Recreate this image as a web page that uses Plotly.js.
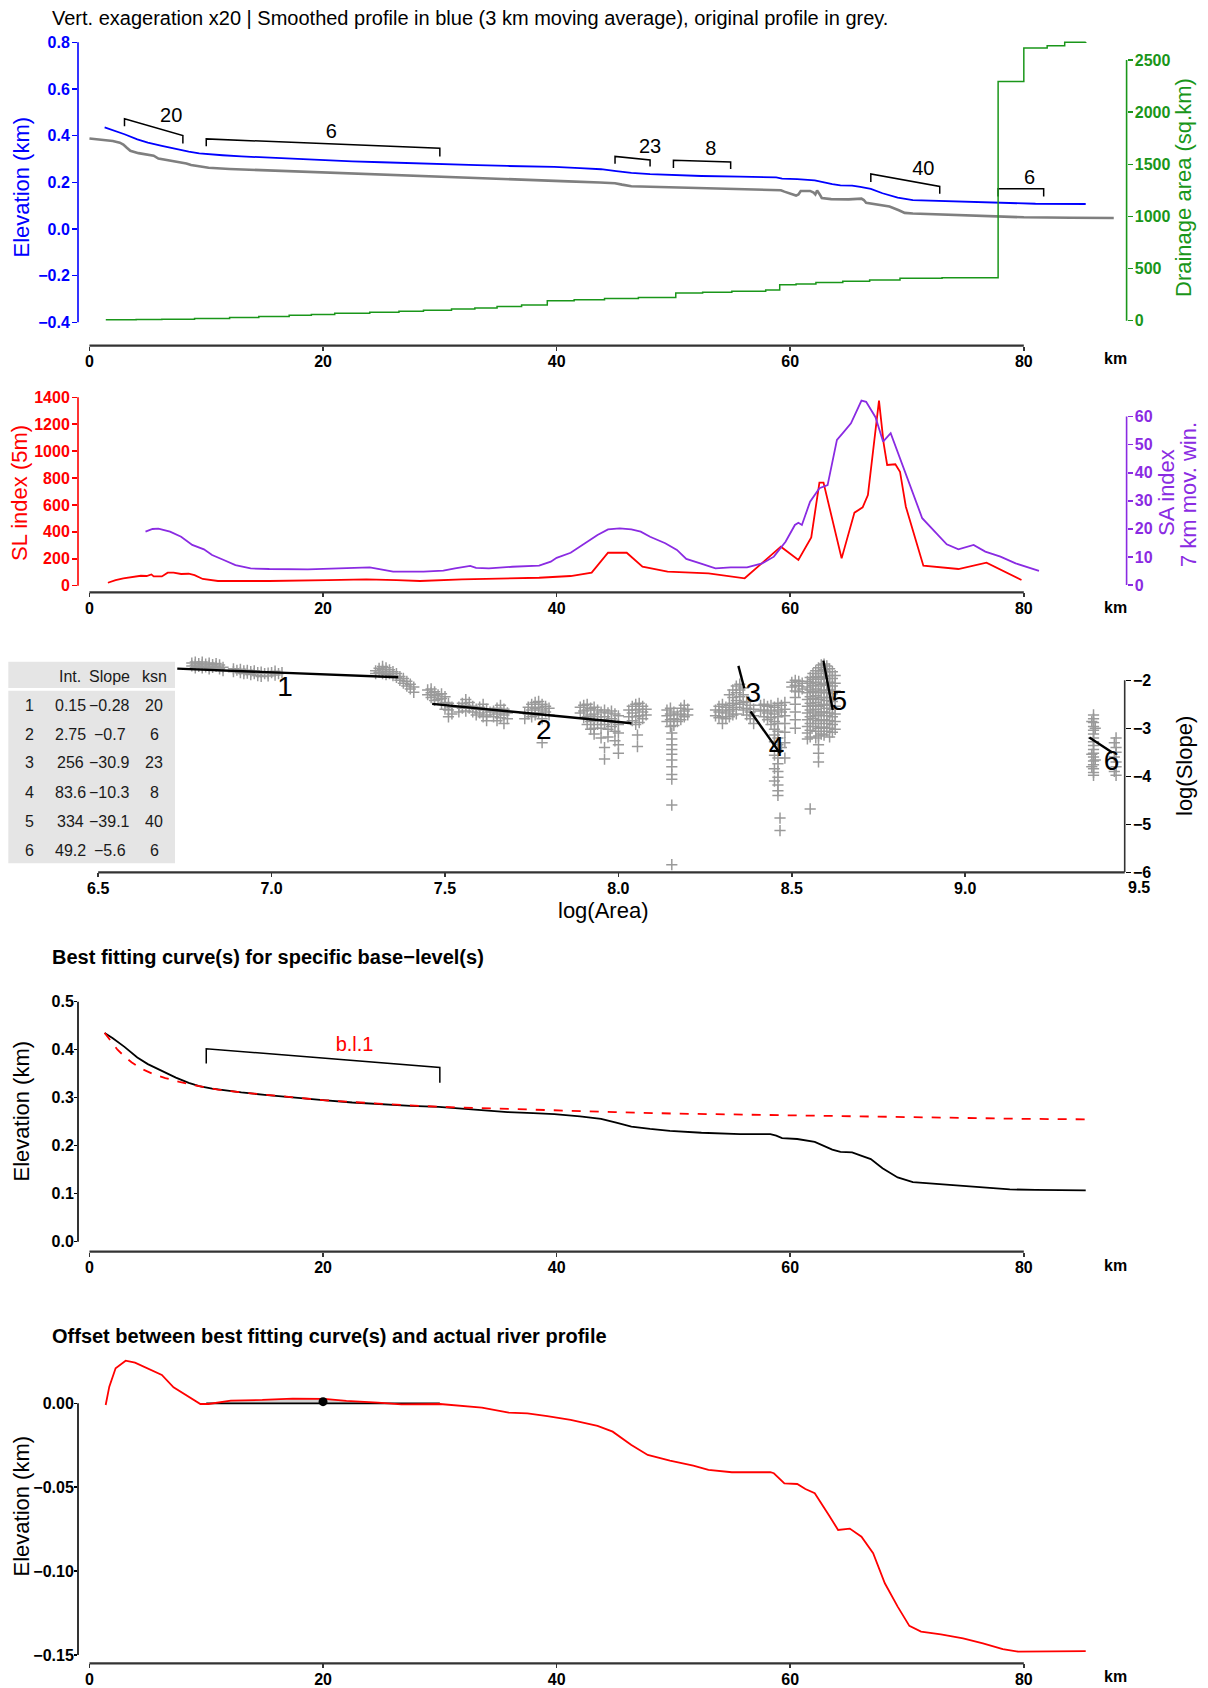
<!DOCTYPE html>
<html><head><meta charset="utf-8">
<script src="https://cdn.plot.ly/plotly-3.0.1.min.js"></script>
<style>html,body{margin:0;padding:0;background:#fff}#chart{width:1208px;height:1688px}</style>
</head><body><div id="chart"></div>
<script>
// ================= DATA =================
const kmTicks = [0, 20, 40, 60, 80];

// Panel 1 : original profile (grey)
const rawKm = [0.0,1.0,2.0,2.6,2.9,3.2,3.5,4.2,5.0,5.5,5.9,6.8,7.8,8.3,8.7,9.5,10.2,12.0,15.4,18.0,22.0,26.0,30.3,33.0,35.2,37.0,39.2,41.0,43.7,45.0,45.6,46.4,48.0,50.3,53.0,55.3,57.0,58.2,59.2,59.5,59.9,60.5,60.7,60.9,61.7,62.0,62.15,62.3,62.5,62.7,63.5,65.0,66.1,66.3,66.5,67.5,68.5,69.3,69.8,70.5,71.7,75.0,77.7,80.0,84.0,87.7];
const rawElev = [0.388,0.383,0.377,0.370,0.362,0.348,0.335,0.325,0.319,0.314,0.302,0.294,0.285,0.281,0.274,0.268,0.262,0.257,0.251,0.246,0.240,0.233,0.226,0.221,0.215,0.212,0.208,0.204,0.199,0.196,0.190,0.183,0.181,0.178,0.173,0.170,0.169,0.168,0.166,0.160,0.153,0.143,0.148,0.163,0.163,0.156,0.148,0.165,0.150,0.133,0.128,0.127,0.130,0.124,0.112,0.104,0.096,0.080,0.069,0.066,0.064,0.058,0.052,0.050,0.048,0.047];

// Smoothed profile (blue in panel 1, black in panel 4)
const smoothKm = [1.3,2.0,3.0,4.1,5.0,6.2,7.4,8.5,9.4,10.5,11.4,13.0,15.0,17.5,20.0,22.5,25.0,27.5,29.9,31.5,33.2,35.8,38.0,39.8,42.0,43.8,45.1,46.4,48.0,49.7,52.4,55.7,58.3,58.8,59.3,60.6,62.1,62.8,63.6,64.3,65.3,66.0,66.9,67.9,69.2,70.5,72.2,74.8,76.5,77.5,78.8,81.0,85.3];
const smoothElev = [0.435,0.424,0.406,0.384,0.370,0.356,0.342,0.331,0.324,0.319,0.316,0.311,0.306,0.300,0.295,0.290,0.286,0.283,0.281,0.278,0.274,0.270,0.268,0.266,0.261,0.256,0.248,0.240,0.235,0.231,0.227,0.224,0.224,0.221,0.216,0.214,0.208,0.200,0.192,0.187,0.186,0.180,0.172,0.153,0.134,0.124,0.121,0.117,0.114,0.111,0.109,0.108,0.107];

// Drainage area (green, stepped)
const areaKm = [1.4,4.0,6.2,9.0,12.0,14.5,17.1,19.0,21.0,24.0,26.5,28.6,31.0,33.0,34.9,37.0,39.2,41.5,44.1,47.0,50.2,52.5,55.0,57.9,59.1,60.5,62.2,64.5,66.8,69.4,73.0,77.8,80.0,82.0,83.5,85.3];
const areaSqKm = [8,12,15,22,30,40,53,60,72,80,90,101,112,122,136,150,191,200,213,222,265,272,282,294,345,352,367,378,390,406,412,2294,2615,2637,2670,2673];

// ksn segments (brackets in panel 1)
const segStartKm = [3.0, 10.0, 45.0, 50.0, 66.9, 77.8];
const segEndKm   = [8.0, 30.0, 48.0, 54.9, 72.8, 81.7];
const segTopStart  = [0.472, 0.386, 0.311, 0.294, 0.236, 0.172];
const segTopEnd    = [0.400, 0.346, 0.296, 0.287, 0.182, 0.172];
const segFootStart = [0.440, 0.354, 0.280, 0.261, 0.201, 0.139];
const segFootEnd   = [0.366, 0.311, 0.268, 0.257, 0.151, 0.139];
const segLabelKm   = [7.0, 20.7, 48.0, 53.2, 71.4, 80.5];
const segLabelElev = [0.479, 0.410, 0.349, 0.337, 0.251, 0.216];

// Panel 2 : SL index and SA index
const slKm = [1.58,2.24,2.9,3.4,3.9,4.4,4.9,5.3,5.5,6.2,6.7,7.2,7.85,8.5,9.0,9.7,11.0,15.4,20.4,23.7,26.3,28.3,31.9,38.5,41.2,43.0,44.4,46.0,47.35,49.5,53.0,56.1,59.2,60.7,61.8,62.5,62.85,64.4,65.5,66.2,66.65,67.6,68.0,68.3,69.0,69.4,69.9,71.4,74.4,76.8,79.8];
const slIndex = [22,42,55,62,67,74,72,84,69,69,97,97,87,89,79,50,35,35,42,47,42,35,47,59,72,97,245,245,141,104,92,55,290,191,359,766,766,203,543,582,674,1375,1058,897,902,847,587,149,124,171,42];
const saKm = [4.8,5.4,5.9,6.9,7.85,8.8,9.8,10.5,11.5,12.5,13.8,15.4,18.7,22.0,24.0,25.3,26.0,28.6,30.3,31.3,32.6,33.1,34.2,36.2,38.5,39.5,40.0,41.2,42.5,43.5,44.4,45.4,46.4,47.2,48.0,49.3,50.3,51.1,52.3,53.6,54.9,56.3,57.6,58.6,59.6,60.4,60.7,61.0,61.7,62.5,63.2,64.0,64.5,65.2,66.1,66.5,67.3,67.95,68.6,69.8,71.3,73.4,74.4,75.7,76.7,78.0,79.3,81.3];
const saIndex = [19.0,19.96,20.1,19.0,17.2,14.3,12.7,10.7,8.9,7.1,5.9,5.7,5.6,6.2,6.3,5.3,4.75,4.75,5.1,5.9,6.8,6.1,5.9,6.5,6.9,8.3,9.7,11.5,14.9,17.8,19.8,20.2,19.8,19.0,17.2,14.9,12.5,9.3,7.7,5.9,6.3,6.3,7.7,10.1,15.4,21.4,22.2,21.4,29.7,34.5,35.6,51.7,54.1,57.6,65.7,65.3,59.8,51.1,54.1,40.4,23.8,14.5,12.7,14.3,11.9,10.1,7.7,5.0];

// Panel 3 : slope-area points, columns of [log(Area), [log(Slope) ...]]
const slopeAreaCols = [
 [6.77,[-1.64,-1.70]],[6.78,[-1.62,-1.68,-1.74]],[6.79,[-1.65,-1.71]],[6.80,[-1.62,-1.68,-1.74]],
 [6.81,[-1.66,-1.72]],[6.82,[-1.64,-1.70,-1.76]],[6.83,[-1.67,-1.73]],[6.84,[-1.65,-1.71]],
 [6.85,[-1.68,-1.76]],[6.86,[-1.73,-1.80]],[6.89,[-1.76,-1.82]],[6.90,[-1.79]],[6.91,[-1.77,-1.84]],
 [6.92,[-1.80,-1.86]],[6.93,[-1.79,-1.85]],[6.94,[-1.82,-1.88]],[6.95,[-1.80,-1.86]],[6.96,[-1.84,-1.90]],
 [6.97,[-1.83,-1.92]],[6.98,[-1.86]],[6.99,[-1.85,-1.91]],[7.00,[-1.84]],[7.01,[-1.81,-1.89]],[7.02,[-1.86]],[7.03,[-1.84]],
 [7.30,[-1.80,-1.86]],[7.31,[-1.75,-1.83]],[7.32,[-1.71,-1.78,-1.86]],[7.33,[-1.74,-1.82,-1.88]],
 [7.34,[-1.78,-1.86]],[7.35,[-1.82,-1.90]],[7.36,[-1.86,-1.94]],[7.37,[-1.92,-2.00]],[7.38,[-1.96,-2.06]],
 [7.39,[-2.02,-2.12]],[7.40,[-2.08,-2.18]],[7.41,[-2.14,-2.25]],
 [7.45,[-2.20,-2.30]],[7.46,[-2.18,-2.26,-2.36]],[7.47,[-2.24,-2.32,-2.42]],[7.48,[-2.30,-2.40]],
 [7.49,[-2.28,-2.38,-2.50]],[7.50,[-2.34,-2.46,-2.60]],[7.51,[-2.48,-2.62,-2.76]],[7.52,[-2.56,-2.70]],
 [7.54,[-2.56,-2.66]],[7.55,[-2.48,-2.58]],[7.56,[-2.40,-2.52,-2.64]],[7.57,[-2.46,-2.58]],[7.58,[-2.54,-2.66]],
 [7.59,[-2.60,-2.72]],[7.60,[-2.56,-2.68]],[7.61,[-2.50,-2.62,-2.76]],[7.62,[-2.60,-2.72,-2.84]],[7.63,[-2.66]],
 [7.64,[-2.64,-2.76]],[7.65,[-2.58,-2.70,-2.84]],[7.66,[-2.52,-2.66,-2.78]],[7.67,[-2.60,-2.72,-2.90]],[7.68,[-2.68,-2.80]],
 [7.73,[-2.68,-2.80]],[7.74,[-2.56,-2.70]],[7.75,[-2.50,-2.62,-2.76]],[7.76,[-2.46,-2.58,-2.72]],
 [7.77,[-2.44,-2.56,-2.68]],[7.78,[-2.50,-2.62,-2.80,-3.30]],[7.79,[-2.54,-2.66]],[7.80,[-2.58,-2.72]],
 [7.89,[-2.56,-2.68]],[7.90,[-2.52,-2.64,-2.78]],[7.91,[-2.50,-2.62,-2.76,-2.92]],[7.92,[-2.58,-2.72,-2.86,-3.02]],
 [7.93,[-2.56,-2.70,-2.84,-3.00,-3.12]],[7.94,[-2.62,-2.76,-2.92]],[7.95,[-2.66,-2.82,-3.00,-3.20]],
 [7.96,[-2.62,-2.76,-2.92,-3.40,-3.64]],[7.97,[-2.68,-2.84,-3.02,-3.18]],[7.98,[-2.64,-2.80,-2.96]],
 [7.99,[-2.70,-2.88,-3.06,-3.26]],[8.00,[-2.74,-2.92,-3.10,-3.34,-3.52]],
 [8.03,[-2.62,-2.76]],[8.04,[-2.54,-2.68,-2.84]],[8.05,[-2.50,-2.62,-2.76,-2.92]],[8.055,[-3.14,-3.38]],
 [8.06,[-2.48,-2.60,-2.74,-2.88]],[8.07,[-2.54,-2.66,-2.80]],[8.08,[-2.60,-2.72]],
 [8.14,[-2.62,-2.74,-2.86]],[8.15,[-2.58,-2.70,-2.82,-2.96]],
 [8.154,[-3.10,-3.22,-3.34,-3.44,-3.54,-3.66,-3.80,-3.96,-4.06,-4.60,-5.84]],
 [8.16,[-2.66,-2.80,-2.94]],[8.17,[-2.72,-2.86]],[8.18,[-2.58,-2.70,-2.82]],[8.19,[-2.52,-2.64,-2.76]],[8.20,[-2.60,-2.72]],
 [8.28,[-2.62,-2.74]],[8.29,[-2.54,-2.66,-2.78]],[8.30,[-2.50,-2.62,-2.76,-2.90]],[8.31,[-2.56,-2.68,-2.80]],
 [8.32,[-2.30,-2.52,-2.64,-2.76]],[8.33,[-2.20,-2.36,-2.48,-2.60,-2.72]],[8.34,[-2.12,-2.26,-2.42,-2.56,-2.70]],
 [8.35,[-2.08,-2.20,-2.34,-2.50]],[8.36,[-2.16,-2.30,-2.46,-2.62]],[8.37,[-2.44,-2.58,-2.72]],
 [8.38,[-2.52,-2.66,-2.80]],[8.39,[-2.60,-2.74,-2.90]],
 [8.41,[-2.52,-2.64]],[8.42,[-2.50,-2.62,-2.76]],[8.43,[-2.54,-2.68,-2.82]],[8.44,[-2.52,-2.64,-2.78,-2.92]],
 [8.45,[-2.56,-2.70,-2.86,-3.02,-3.14,-3.28,-3.56,-3.84,-4.10]],
 [8.46,[-2.48,-2.62,-2.76,-2.90,-3.06,-3.20,-3.34,-3.46,-3.62,-3.74,-3.90,-4.02,-4.18,-4.30,-4.40]],
 [8.466,[-4.87,-5.13]],[8.47,[-2.52,-2.66,-3.40]],[8.48,[-2.46,-2.60,-2.74,-2.90,-3.08,-3.30,-3.62]],
 [8.50,[-2.04,-2.14]],[8.51,[-2.00,-2.10,-2.22,-2.36,-2.50,-2.66,-2.82,-3.00]],[8.52,[-2.02,-2.12,-2.24]],[8.53,[-2.06,-2.18]],
 [8.545,[-2.02,-2.14,-2.26,-2.40,-2.54,-2.68,-2.82,-2.96,-3.10,-3.22]],
 [8.553,[-1.94,-2.06,-2.20,-2.34,-2.48,-2.62,-2.76,-2.90,-3.04,-3.18,-4.68]],
 [8.561,[-1.86,-1.98,-2.10,-2.24,-2.38,-2.52,-2.66,-2.80,-2.96]],
 [8.569,[-1.80,-1.92,-2.04,-2.18,-2.32,-2.46,-2.60,-2.74,-2.90,-3.06,-3.20]],
 [8.577,[-1.74,-1.86,-1.98,-2.12,-2.26,-2.40,-2.54,-2.70,-2.84,-3.00,-3.16,-3.34,-3.52,-3.70]],
 [8.585,[-1.68,-1.80,-1.94,-2.08,-2.22,-2.36,-2.52,-2.66,-2.82,-2.98,-3.12]],
 [8.593,[-1.66,-1.78,-1.92,-2.06,-2.20,-2.36,-2.50,-2.66,-2.82,-2.98,-3.14]],
 [8.601,[-1.70,-1.82,-1.96,-2.10,-2.26,-2.42,-2.58,-2.74,-2.90,-3.06]],
 [8.609,[-1.76,-1.90,-2.04,-2.20,-2.36,-2.52,-2.68,-2.84,-3.00,-3.18]],
 [8.617,[-1.82,-1.96,-2.12,-2.28,-2.44,-2.60,-2.76,-2.92,-3.08]],
 [8.625,[-1.90,-2.06,-2.22,-2.38,-2.54,-2.70,-2.86,-3.02]],
 [9.365,[-2.86,-3.54,-3.80]],
 [9.37,[-2.72,-2.80,-2.88,-2.96,-3.04,-3.12,-3.20,-3.28,-3.36,-3.44,-3.52,-3.60,-3.68,-3.76,-3.84,-3.92,-3.98]],
 [9.375,[-3.00,-3.66]],[9.43,[-3.30,-3.60,-3.90]],[9.435,[-3.20,-3.40,-3.50,-3.70,-3.80,-3.98]]
];
// fitted slope-area segments
const fitAreaStart  = [6.728, 7.463, 8.346, 8.381, 8.591, 9.358];
const fitAreaEnd    = [7.365, 8.038, 8.363, 8.466, 8.618, 9.424];
const fitSlopeStart = [-1.756, -2.491, -1.70, -2.65, -1.59, -3.19];
const fitSlopeEnd   = [-1.936, -2.893, -2.165, -3.52, -2.616, -3.504];
const fitLabelArea  = [7.039, 7.785, 8.389, 8.456, 8.637, 9.422];
const fitLabelSlope = [-2.179, -3.067, -2.304, -3.427, -2.477, -3.725];
const areaTicks = [6.5, 7.0, 7.5, 8.0, 8.5, 9.0];
const slopeTicks = [-6, -5, -4, -3, -2];

// Table
const tableHeader = ["", "Int.", "Slope", "ksn"];
const tableRow = ["1","2","3","4","5","6"];
const tableInt = ["0.15","2.75","256","83.6","334","49.2"];
const tableSlope = ["\u22120.28","\u22120.7","\u221230.9","\u221210.3","\u221239.1","\u22125.6"];
const tableKsn = [20, 6, 23, 8, 40, 6];

// Panel 4 : best fitting curve for base level 1
const bestFitKm = [1.3,1.8,2.4,3.0,3.6,4.4,5.4,6.5,7.7,9.4,11.0,13.0,15.0,17.5,20.0,22.5,25.0,27.5,30.0,35.0,40.0,45.0,50.0,55.0,60.0,65.0,70.0,75.0,80.0,85.3];
const bestFitElev = [0.435,0.418,0.400,0.386,0.374,0.361,0.350,0.341,0.333,0.324,0.317,0.311,0.306,0.300,0.295,0.291,0.287,0.284,0.281,0.277,0.273,0.270,0.267,0.265,0.263,0.261,0.259,0.258,0.256,0.255];
const blStartKm = 10, blEndKm = 30;
const blTop = [0.402, 0.363];
const blFoot = [0.3715, 0.331];
const blLabel = {km: 22.7, elev: 0.407, text: "b.l.1"};

// Panel 5 : offset between best fit and profile
const offKm = [1.39,1.7,2.24,3.1,3.9,4.9,6.2,7.2,8.5,9.5,10.2,12.1,14.8,17.4,20.1,22.0,24.7,26.7,30.0,31.9,33.6,35.9,37.5,39.2,41.2,43.5,44.8,46.4,47.8,49.7,51.7,53.0,55.0,58.3,58.6,59.5,60.6,61.3,62.1,63.3,64.1,65.1,66.1,67.1,68.1,69.2,70.2,71.2,72.9,74.8,76.5,78.2,79.5,85.3];
const offElev = [-0.001,0.0099,0.0209,0.0254,0.0242,0.0209,0.0169,0.0095,0.004,-0.0004,-0.0004,0.0016,0.002,0.0028,0.0026,0.0014,0.0004,-0.0006,-0.0004,-0.0016,-0.0026,-0.0056,-0.006,-0.0076,-0.0099,-0.0135,-0.0169,-0.0248,-0.0308,-0.0342,-0.0372,-0.0397,-0.0411,-0.0411,-0.0417,-0.0477,-0.0481,-0.0511,-0.0536,-0.0666,-0.0755,-0.0747,-0.0795,-0.0894,-0.1073,-0.1212,-0.1327,-0.1361,-0.1377,-0.1401,-0.1431,-0.1466,-0.148,-0.1478];
const offBaseline = 0;
const offDot = {km: 20, elev: 0.001};

// ================= LAYOUT HELPERS =================
const W = 1208, H = 1688;
const px = v => v / W, py = v => 1 - v / H;
const FONT = 'Liberation Sans, Arial, Helvetica, sans-serif';
const BLUE = '#0000ff', GREEN = '#1a961a', RED = '#ff0000', PURPLE = '#8a2be2', GREYL = '#7f7f7f', PTS = '#9a9a9a';

const xDomKm = [px(78), px(1126.6)];
const xRangeKm = [-0.98, 88.8];
const xDomSA = [px(78), px(1124.7)];
const xRangeSA = [6.4418, 9.4599];

function xAxis(domain, range, anchor, vals, fmt) {
  return {domain, range, anchor, showgrid:false, zeroline:false, showline:false,
    ticks:'outside', ticklen:4, tickwidth:1.5, tickcolor:'#333', tickvals:vals, tickformat:fmt||'',
    ticklabelstandoff:-3,
    tickfont:{family:FONT, size:16, color:'#000', weight:'bold'}, fixedrange:true};
}
function yAxis(domain, range, anchor, vals, color, fmt, side, overlaying, standoff, tlen) {
  const a = {range, anchor, showgrid:false, zeroline:false, showline:false,
    ticks:'outside', ticklen:tlen||5, tickwidth:1.5, tickcolor:color, tickvals:vals, tickformat:fmt||'',
    ticklabelstandoff: standoff || 0,
    tickfont:{family:FONT, size:16, color, weight:'bold'}, side:side||'left', fixedrange:true};
  if (overlaying) a.overlaying = overlaying; else a.domain = domain;
  return a;
}

const yDom1 = [py(345.7), py(36)];
const yDom2 = [py(592.3), py(388)];
const yDom3 = [py(872.4), py(650)];
const yDom4 = [py(1251.7), py(995)];
const yDom5 = [py(1663.3), py(1355)];

const elevTicks1 = [-0.4,-0.2,0,0.2,0.4,0.6,0.8];
const areaAxisTicks = [0,500,1000,1500,2000,2500];
const slTicks = [0,200,400,600,800,1000,1200,1400];
const saTicks = [0,10,20,30,40,50,60];
const elevTicks4 = [0,0.1,0.2,0.3,0.4,0.5];
const offTicks = [-0.15,-0.10,-0.05,0];

const layout = {
  width: W, height: H, autosize:false, margin:{l:0,r:0,t:0,b:0},
  paper_bgcolor:'#fff', plot_bgcolor:'rgba(0,0,0,0)', showlegend:false,
  font:{family:FONT},
  xaxis:  xAxis(xDomKm, xRangeKm, 'y', kmTicks),
  yaxis:  yAxis(yDom1, [-0.5003, 0.827], 'x', elevTicks1, BLUE, '.1f', 'left', null, -1),
  yaxis2: yAxis(null, [-239.7, 2730], 'x', areaAxisTicks, GREEN, '', 'right', 'y', -1),
  xaxis2: xAxis(xDomKm, xRangeKm, 'y3', kmTicks),
  yaxis3: yAxis(yDom2, [-49, 1469], 'x2', slTicks, RED, '', 'left', null, -1),
  yaxis4: yAxis(null, [-2.6, 70.2], 'x2', saTicks, PURPLE, '', 'right', 'y3', -1),
  xaxis3: xAxis(xDomSA, xRangeSA, 'y5', areaTicks, '.1f'),
  yaxis5: yAxis(yDom3, [-6.002, -1.368], 'x3', slopeTicks, '#000', '', 'right', null, -1),
  xaxis4: xAxis(xDomKm, xRangeKm, 'y6', kmTicks),
  yaxis6: yAxis(yDom4, [-0.0208, 0.514], 'x4', elevTicks4, '#000', '.1f', 'left', null, -3, 3),
  xaxis5: xAxis(xDomKm, xRangeKm, 'y7', kmTicks),
  yaxis7: yAxis(yDom5, [-0.155, 0.0288], 'x5', offTicks, '#000', '.2f', 'left', null, -3, 3),
  shapes: [], annotations: []
};

// axis lines (R style: spanning first to last tick)
function xLine(xa, ya, x0, x1) {
  layout.shapes.push({type:'line', xref:xa, yref:ya+' domain', x0, x1, y0:0, y1:0, line:{color:'#333', width:2.2}});
}
function yLine(xa, ya, pos, vals, color) {
  layout.shapes.push({type:'line', xref:xa+' domain', yref:ya, x0:pos, x1:pos,
    y0:Math.min(...vals), y1:Math.max(...vals), line:{color, width:1.6}});
}
xLine('x','y', kmTicks[0], kmTicks[kmTicks.length-1]);
yLine('x','y', 0, elevTicks1, BLUE);
yLine('x','y2', 1, areaAxisTicks, GREEN);
xLine('x2','y3', kmTicks[0], kmTicks[kmTicks.length-1]);
yLine('x2','y3', 0, slTicks, RED);
yLine('x2','y4', 1, saTicks, PURPLE);
xLine('x3','y5', areaTicks[0], 9.5);
yLine('x3','y5', 1, slopeTicks, '#333');
xLine('x4','y6', kmTicks[0], kmTicks[kmTicks.length-1]);
yLine('x4','y6', 0, elevTicks4, '#000');
xLine('x5','y7', kmTicks[0], kmTicks[kmTicks.length-1]);
yLine('x5','y7', 0, offTicks, '#000');

// annotations
function ann(text, x, y, opts) {
  layout.annotations.push(Object.assign({text, x:px(x), y:py(y), xref:'paper', yref:'paper',
    showarrow:false, xanchor:'center', yanchor:'middle',
    font:{family:FONT, size:22, color:'#000'}}, opts||{}));
}
ann('Vert. exageration x20 | Smoothed profile in blue (3 km moving average), original profile in grey.', 49.5, 18,
    {xanchor:'left', font:{family:FONT, size:20, color:'#000'}});
ann('Elevation (km)', 21.5, 187, {textangle:-90, font:{family:FONT, size:22, color:BLUE}});
ann('Drainage area (sq.km)', 1184, 188, {textangle:-90, font:{family:FONT, size:22, color:GREEN}});
ann('SL index (5m)', 20, 493, {textangle:-90, font:{family:FONT, size:22, color:RED}});
ann('SA index', 1167, 493, {textangle:-90, font:{family:FONT, size:22, color:PURPLE}});
ann('7 km mov. win.', 1188, 495, {textangle:-90, font:{family:FONT, size:22, color:PURPLE}});
ann('log(Area)', 603, 910);
ann('log(Slope)', 1184, 766, {textangle:-90});
ann('Best fitting curve(s) for specific base\u2212level(s)', 49.5, 957.3,
    {xanchor:'left', font:{family:FONT, size:20, color:'#000', weight:'bold'}});
ann('Elevation (km)', 20.5, 1111, {textangle:-90});
ann('Offset between best fitting curve(s) and actual river profile', 49.5, 1336,
    {xanchor:'left', font:{family:FONT, size:20, color:'#000', weight:'bold'}});
ann('Elevation (km)', 20.5, 1506, {textangle:-90});
[359, 608, 1265, 1676].forEach(y => ann('km', 1115, y, {font:{family:FONT, size:16, color:'#000', weight:'bold'}}));
// tick label 9.5 sits just beyond the plotted range
layout.annotations.push({text:'9.5', xref:'x3', yref:'y5 domain', x:xRangeSA[1]-0.0005, y:0,
  xshift:(9.5 - xRangeSA[1] + 0.0005) * (1046.7/(xRangeSA[1]-xRangeSA[0])), yshift:-15,
  showarrow:false, xanchor:'center', yanchor:'middle', font:{family:FONT, size:16, color:'#000', weight:'bold'}});

// table
const tbl = {left:8.3, right:175, hTop:661.7, hBot:688, bTop:690.7, bBot:863.3,
  hY:676, row0:705, rowStep:29, cols:[29, 70.3, 110, 154.3]};
layout.shapes.push({type:'rect', xref:'paper', yref:'paper', x0:px(tbl.left), x1:px(tbl.right), y0:py(tbl.hBot), y1:py(tbl.hTop),
  fillcolor:'#e5e5e5', line:{width:0}, layer:'below'});
layout.shapes.push({type:'rect', xref:'paper', yref:'paper', x0:px(tbl.left), x1:px(tbl.right), y0:py(tbl.bBot), y1:py(tbl.bTop),
  fillcolor:'#e5e5e5', line:{width:0}, layer:'below'});
const tFont = {family:FONT, size:16, color:'#1a1a1a'};
tableHeader.forEach((t, c) => { if (t) ann(t, tbl.cols[c], tbl.hY, {font:tFont}); });
tableRow.forEach((r, i) => {
  const y = tbl.row0 + i * tbl.rowStep;
  [r, tableInt[i], tableSlope[i], String(tableKsn[i])].forEach((t, c) => ann(t, tbl.cols[c], y, {font:tFont}));
});

// ================= TRACES =================
const traces = [];
// Panel 1
traces.push({x:rawKm, y:rawElev, xaxis:'x', yaxis:'y', mode:'lines', line:{color:GREYL, width:2.6}, hoverinfo:'skip'});
traces.push({x:smoothKm, y:smoothElev, xaxis:'x', yaxis:'y', mode:'lines', line:{color:BLUE, width:1.8}, hoverinfo:'skip'});
(function(){
  const bx = [], by = [];
  segStartKm.forEach((s, i) => {
    bx.push(s, s, segEndKm[i], segEndKm[i], null);
    by.push(segFootStart[i], segTopStart[i], segTopEnd[i], segFootEnd[i], null);
  });
  traces.push({x:bx, y:by, xaxis:'x', yaxis:'y', mode:'lines', line:{color:'#000', width:1.5}, hoverinfo:'skip'});
  traces.push({x:segLabelKm, y:segLabelElev, text:tableKsn.map(String), xaxis:'x', yaxis:'y', mode:'text',
    textfont:{family:FONT, size:20, color:'#000'}, cliponaxis:false, hoverinfo:'skip'});
})();
traces.push({x:areaKm, y:areaSqKm, xaxis:'x', yaxis:'y2', mode:'lines', line:{color:GREEN, width:1.5, shape:'hv'}, hoverinfo:'skip'});

// Panel 2
traces.push({x:slKm, y:slIndex, xaxis:'x2', yaxis:'y3', mode:'lines', line:{color:RED, width:1.8}, hoverinfo:'skip'});
traces.push({x:saKm, y:saIndex, xaxis:'x2', yaxis:'y4', mode:'lines', line:{color:PURPLE, width:1.8}, hoverinfo:'skip'});

// Panel 3
(function(){
  const ax = [], ay = [];
  slopeAreaCols.forEach(([a, ss]) => ss.forEach(s => { ax.push(a); ay.push(s); }));
  traces.push({x:ax, y:ay, xaxis:'x3', yaxis:'y5', mode:'markers',
    marker:{symbol:'cross-thin-open', size:8, color:PTS, line:{color:PTS, width:1.5}}, hoverinfo:'skip'});
  const lx = [], ly = [];
  fitAreaStart.forEach((a, i) => { lx.push(a, fitAreaEnd[i], null); ly.push(fitSlopeStart[i], fitSlopeEnd[i], null); });
  traces.push({x:lx, y:ly, xaxis:'x3', yaxis:'y5', mode:'lines', line:{color:'#000', width:2.4}, hoverinfo:'skip'});
  traces.push({x:fitLabelArea, y:fitLabelSlope, text:tableRow, xaxis:'x3', yaxis:'y5', mode:'text',
    textfont:{family:FONT, size:28, color:'#000'}, cliponaxis:false, hoverinfo:'skip'});
})();

// Panel 4
traces.push({x:smoothKm, y:smoothElev, xaxis:'x4', yaxis:'y6', mode:'lines', line:{color:'#000', width:1.8}, hoverinfo:'skip'});
traces.push({x:bestFitKm, y:bestFitElev, xaxis:'x4', yaxis:'y6', mode:'lines', line:{color:RED, width:1.8, dash:'dash'}, hoverinfo:'skip'});
traces.push({x:[blStartKm, blStartKm, blEndKm, blEndKm], y:[blFoot[0], blTop[0], blTop[1], blFoot[1]],
  xaxis:'x4', yaxis:'y6', mode:'lines', line:{color:'#000', width:1.5}, hoverinfo:'skip'});
traces.push({x:[blLabel.km], y:[blLabel.elev], text:[blLabel.text], xaxis:'x4', yaxis:'y6', mode:'text',
  textfont:{family:FONT, size:20, color:RED}, cliponaxis:false, hoverinfo:'skip'});

// Panel 5
(function(){
  const sx = [], sy = [];
  offKm.forEach((k, i) => { if (k >= blStartKm && k <= blEndKm) { sx.push(k); sy.push(offElev[i]); } });
  traces.push({x:[blStartKm, blEndKm], y:[offBaseline, offBaseline], xaxis:'x5', yaxis:'y7', mode:'lines', line:{width:0, color:'rgba(0,0,0,0)'}, hoverinfo:'skip'});
  traces.push({x:sx, y:sy, xaxis:'x5', yaxis:'y7', mode:'lines', fill:'tonexty', fillcolor:'rgba(190,190,190,0.7)', line:{width:0, color:'rgba(0,0,0,0)'}, hoverinfo:'skip'});
  traces.push({x:[blStartKm, blEndKm], y:[offBaseline, offBaseline], xaxis:'x5', yaxis:'y7', mode:'lines', line:{color:'#000', width:1.8}, hoverinfo:'skip'});
})();
traces.push({x:offKm, y:offElev, xaxis:'x5', yaxis:'y7', mode:'lines', line:{color:RED, width:1.8}, hoverinfo:'skip'});
traces.push({x:[offDot.km], y:[offDot.elev], xaxis:'x5', yaxis:'y7', mode:'markers', marker:{color:'#000', size:9}, cliponaxis:false, hoverinfo:'skip'});

Plotly.newPlot('chart', traces, layout, {displayModeBar:false, staticPlot:true});
</script>
</body></html>
